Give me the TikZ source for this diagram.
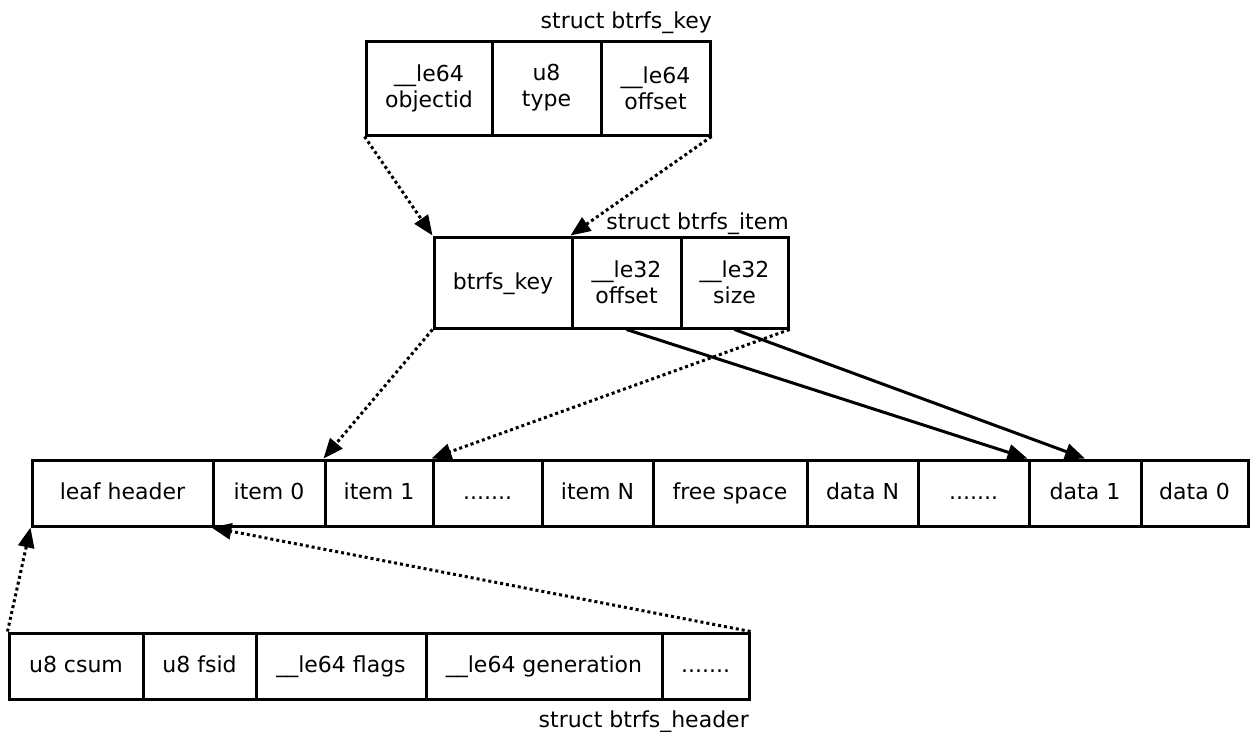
\documentclass[tikz,border=0pt]{standalone}
\usepackage{fontspec}
\setmainfont{DejaVu Sans}
\usetikzlibrary{arrows.meta}
\begin{document}
\begin{tikzpicture}[x=1pt,y=-1pt,
  cell/.style={draw=black, line width=3pt, inner sep=0pt, align=center,
    font=\fontsize{22}{26}\selectfont},
  one/.style={cell, text height=17pt, text depth=4pt},
  lbl/.style={inner sep=0pt, font=\fontsize{22}{26}\selectfont},
  ptr/.style={line width=3pt, dash pattern={on 3pt off 3pt},
    -{Triangle[length=20pt,width=16pt]}},
  sptr/.style={line width=3pt, -{Triangle[length=20pt,width=16pt]}}]
\useasboundingbox (0,0) rectangle (1257,731);
\fill[white] (0,0) rectangle (1257,731);
% struct btrfs_key
\node[cell, minimum width=126pt, minimum height=94pt] (kobj) at (429,88) {\_\_le64\\objectid};
\node[cell, minimum width=109pt, minimum height=94pt] (ktype) at (546.5,88) {u8\\type};
\node[cell, minimum width=109pt, minimum height=94pt] (koff) at (655.5,88) {\_\_le64\\offset};
\node[lbl, anchor=base east] (klbl) at (712,28) {struct btrfs\_key};
% struct btrfs_item
\node[one, minimum width=138pt, minimum height=91pt] (ikey) at (503,282.5) {btrfs\_key};
\node[cell, minimum width=109pt, minimum height=91pt] (ioff) at (626.5,282.5) {\_\_le32\\offset};
\node[cell, minimum width=107pt, minimum height=91pt] (isize) at (734.5,282.5) {\_\_le32\\size};
\node[lbl, anchor=base east] (ilbl) at (789,229) {struct btrfs\_item};
% leaf
\node[one, minimum width=181pt, minimum height=66pt] (lh) at (122.5,493) {leaf header};
\node[one, minimum width=112pt, minimum height=66pt] (i0) at (269,493) {item 0};
\node[one, minimum width=108pt, minimum height=66pt] (i1) at (379,493) {item 1};
\node[one, minimum width=109pt, minimum height=66pt] (ld1) at (487.5,493) {.......};
\node[one, minimum width=111pt, minimum height=66pt] (iN) at (597.5,493) {item N};
\node[one, minimum width=154pt, minimum height=66pt] (fs) at (730,493) {free space};
\node[one, minimum width=111pt, minimum height=66pt] (dN) at (862.5,493) {data N};
\node[one, minimum width=111pt, minimum height=66pt] (ld2) at (973.5,493) {.......};
\node[one, minimum width=112pt, minimum height=66pt] (d1) at (1085,493) {data 1};
\node[one, minimum width=107pt, minimum height=66pt] (d0) at (1194.5,493) {data 0};
% struct btrfs_header
\node[one, minimum width=134pt, minimum height=66pt] (hcsum) at (76,666) {u8 csum};
\node[one, minimum width=113pt, minimum height=66pt] (hfsid) at (199.5,666) {u8 fsid};
\node[one, minimum width=170pt, minimum height=66pt] (hflags) at (341,666) {\_\_le64 flags};
\node[one, minimum width=236pt, minimum height=66pt] (hgen) at (544,666) {\_\_le64 generation};
\node[one, minimum width=87pt, minimum height=66pt] (hdots) at (705.5,666) {.......};
\node[lbl, anchor=base east] (hlbl) at (749,727) {struct btrfs\_header};
% connectors
\draw[ptr] (kobj.south west) -- (ikey.north west);
\draw[ptr] (koff.south east) -- (ioff.north west);
\draw[ptr] (ikey.south west) -- (i1.north west);
\draw[ptr] (isize.south east) -- (ld1.north west);
\draw[sptr] (ioff.south) -- (d1.north west);
\draw[sptr] (isize.south) -- (d1.north);
\draw[ptr] (hcsum.north west) -- (lh.south west);
\draw[ptr] (hdots.north east) -- (i0.south west);
\end{tikzpicture}
\end{document}
